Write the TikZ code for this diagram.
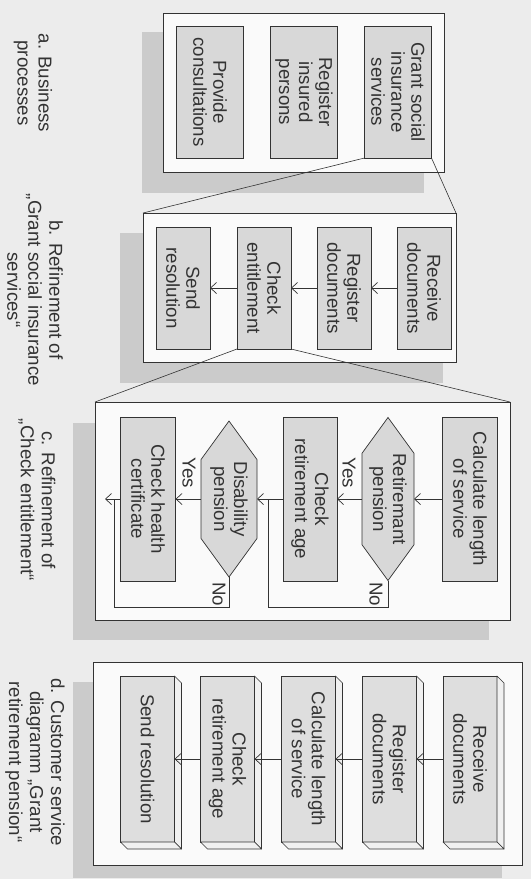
\documentclass[tikz,border=0pt]{standalone}
\usepackage{fontspec}
\setmainfont{Liberation Sans}
\usetikzlibrary{arrows.meta,shapes.symbols}

\definecolor{paper}{HTML}{ECECEC}
\definecolor{shade}{HTML}{CBCBCB}
\definecolor{panel}{HTML}{FAFAFA}
\definecolor{boxfill}{HTML}{D8D8D8}
\definecolor{boxfillb}{HTML}{DEDEDE}
\definecolor{bevel}{HTML}{F0F0F0}
\definecolor{ink}{HTML}{333333}

\tikzset{
  txt/.style={font=\fontsize{18.7}{20}\selectfont, text=ink, align=center,
              rotate=-90, inner sep=0pt},
  captxt/.style={font=\fontsize{18.7}{21}\selectfont, text=ink, align=center,
              rotate=-90, inner sep=0pt},
  act/.style={txt, draw=ink, fill=boxfill, line width=0.7pt, outer sep=0pt},
  act3d/.style={txt, draw=ink, fill=boxfillb, line width=0.7pt, outer sep=0pt},
  decide/.style={txt, shape=signal, signal to=east and west,
                 signal pointer angle=72, draw=ink, fill=boxfill,
                 line width=0.7pt, outer sep=0pt},
  panelbox/.style={draw=ink, fill=panel, line width=0.8pt, inner sep=0pt, outer sep=0pt},
  shadowbox/.style={fill=shade, inner sep=0pt, outer sep=0pt},
  flow/.style={draw=ink, line width=0.7pt, -{Straight Barb[length=6pt,width=11pt]}},
  plain/.style={draw=ink, line width=0.7pt},
  zoomline/.style={draw=ink, line width=0.6pt},
  bevelface/.style={draw=ink, fill=bevel, line width=0.6pt, line join=round}
}

\begin{document}
\begin{tikzpicture}[x=1pt,y=-1pt]
\useasboundingbox (0,0) rectangle (531,879);
\fill[paper] (0,0) rectangle (531,879);

% ---------- drop shadows behind the four panels ----------
\node[shadowbox, minimum width=282pt, minimum height=161pt] (sa) at (283,112.5) {};
\node[shadowbox, minimum width=323pt, minimum height=150pt] (sb) at (281.5,308) {};
\node[shadowbox, minimum width=416pt, minimum height=217pt] (sc) at (281,531.5) {};
\node[shadowbox, minimum width=429pt, minimum height=196pt] (sd) at (287.5,780) {};

% ---------- panels ----------
\node[panelbox, minimum width=281pt, minimum height=159pt] (fa) at (303.5,92.5) {};
\node[panelbox, minimum width=313pt, minimum height=149pt] (fb) at (299.5,287.5) {};
\node[panelbox, minimum width=415pt, minimum height=218pt] (fc) at (302.5,511) {};
\node[panelbox, minimum width=429pt, minimum height=203pt] (fd) at (307.5,763.5) {};

% ---------- a. business processes ----------
\node[act, minimum width=132pt, minimum height=67pt] (gsis) at (398,92) {Grant social\\insurance\\services};
\node[act, minimum width=132pt, minimum height=67pt] (rip) at (304,92) {Register\\insured\\persons};
\node[act, minimum width=132pt, minimum height=67pt] (prov) at (210,92) {Provide\\consultations};
\node[captxt] (capa) at (33,83) {a. Business\\processes};

% ---------- b. refinement of "Grant social insurance services" ----------
\node[act, minimum width=122pt, minimum height=54pt] (recvb) at (424,288) {Receive\\documents};
\node[act, minimum width=122pt, minimum height=54pt] (regb) at (344,288) {Register\\documents};
\node[act, minimum width=122pt, minimum height=54pt] (chke) at (264,288) {Check\\entitlement};
\node[act, minimum width=122pt, minimum height=54pt] (sendb) at (183,288) {Send\\resolution};
\draw[flow] (recvb.south) -- (regb.north);
\draw[flow] (regb.south) -- (chke.north);
\draw[flow] (chke.south) -- (sendb.north);
\node[captxt] (capb) at (35,290) {b. Refinement of\\„Grant social insurance\\services“};

% ---------- c. refinement of "Check entitlement" ----------
\node[act, minimum width=164pt, minimum height=55pt] (calc) at (470,499) {Calculate length\\of service};
\node[decide, minimum width=156pt, minimum height=52pt] (retp) at (388,499) {Retiremant\\pension};
\node[act, minimum width=164pt, minimum height=54pt] (chka) at (310,499) {Check\\retirement age};
\node[decide, minimum width=156pt, minimum height=56pt] (disp) at (229,499) {Disability\\pension};
\node[act, minimum width=164pt, minimum height=55pt] (chkh) at (148,499) {Check health\\certificate};
\coordinate (cend) at (105,499);
\coordinate (nob1) at (268,607);
\coordinate (noj1) at (268,499);
\coordinate (nob2) at (114,607);
\coordinate (noj2) at (114,499);
\draw[flow] (calc.south) -- (retp.north);
\draw[flow] (retp.south) -- (chka.north);
\draw[flow] (chka.south) -- (disp.north);
\draw[flow] (disp.south) -- (chkh.north);
\draw[flow] (chkh.south) -- (cend);
\draw[plain] (retp.east) |- (nob1) -- (noj1);
\draw[plain] (disp.east) |- (nob2) -- (noj2);
\node[txt] (yes1) at (349,473) {Yes};
\node[txt] (yes2) at (189,473) {Yes};
\node[txt] (no1) at (376,594) {No};
\node[txt] (no2) at (219,594) {No};
\node[captxt] (capc) at (37,500) {c. Refinement of\\„Check entitlement“};

% ---------- d. customer service diagram ----------
\foreach \nm/\cx/\lab in {recvd/470/{Receive\\documents},
                          regd/389.5/{Register\\documents},
                          calcd/308.5/{Calculate length\\of service},
                          chkd/227.5/{Check\\retirement age},
                          sendd/147.5/{Send resolution}}{
  \node[act3d, minimum width=166pt, minimum height=54pt] (\nm) at (\cx,759) {\lab};
  % extruded right and bottom faces
  \draw[bevelface] (\nm.north west) -- ++(7,7) -- ([shift={(7,7)}]\nm.north east) -- (\nm.north east) -- cycle;
  \draw[bevelface] (\nm.south east) -- ++(7,7) -- ([shift={(7,7)}]\nm.north east) -- (\nm.north east) -- cycle;
}
\draw[flow] (recvd.south) -- (regd.north);
\draw[flow] (regd.south) -- (calcd.north);
\draw[flow] (calcd.south) -- (chkd.north);
\draw[flow] (chkd.south) -- (sendd.north);
\node[captxt] (capd) at (35,762) {d. Customer service\\diagramm „Grant\\retirement pension“};

% ---------- refinement (zoom) lines ----------
\draw[zoomline] (gsis.south east) -- (fb.north west);
\draw[zoomline] (gsis.north east) -- (fb.north east);
\draw[zoomline] (chke.south east) -- (fc.north west);
\draw[zoomline] (chke.north east) -- (fc.north east);
\end{tikzpicture}
\end{document}
